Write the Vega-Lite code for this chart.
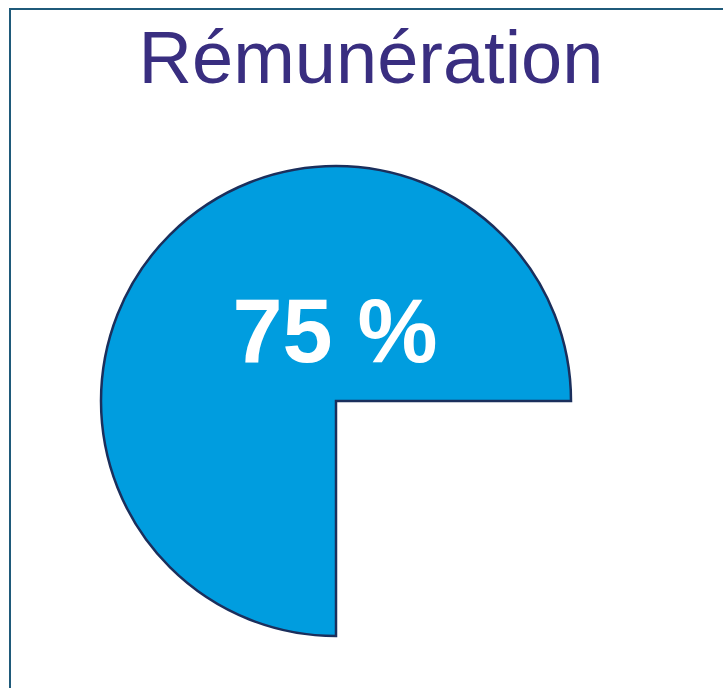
{
  "$schema": "https://vega.github.io/schema/vega-lite/v6.json",
  "autosize": "none",
  "width": 720,
  "height": 700,
  "padding": {"left": 10, "top": 9, "right": 0, "bottom": 0},
  "background": "white",
  "view": {"stroke": "#1f5a7a", "strokeWidth": 2, "fill": "white"},
  "data": {
    "values": [
      {"category": "Rémunération", "value": 75, "label": "75 %"}
    ]
  },
  "layer": [
    {
      "mark": {
        "type": "arc",
        "outerRadius": 235,
        "x": 326,
        "y": 392,
        "fill": "#009ddf",
        "stroke": "#1b2f5c",
        "strokeWidth": 2.5,
        "strokeJoin": "miter"
      },
      "encoding": {
        "theta": {
          "field": "value",
          "type": "quantitative",
          "stack": true,
          "scale": {"domain": [0, 100], "range": [3.14159265, 9.42477796]}
        }
      }
    },
    {
      "mark": {
        "type": "text",
        "x": 325,
        "y": 353,
        "font": "Liberation Sans",
        "fontWeight": "bold",
        "fontSize": 90,
        "color": "white",
        "align": "center",
        "baseline": "alphabetic"
      },
      "encoding": {
        "text": {"field": "label", "type": "nominal"}
      }
    },
    {
      "mark": {
        "type": "text",
        "x": 361,
        "y": 74,
        "font": "Liberation Sans",
        "fontSize": 74,
        "color": "#392e80",
        "align": "center",
        "baseline": "alphabetic"
      },
      "encoding": {
        "text": {"field": "category", "type": "nominal"}
      }
    }
  ]
}
